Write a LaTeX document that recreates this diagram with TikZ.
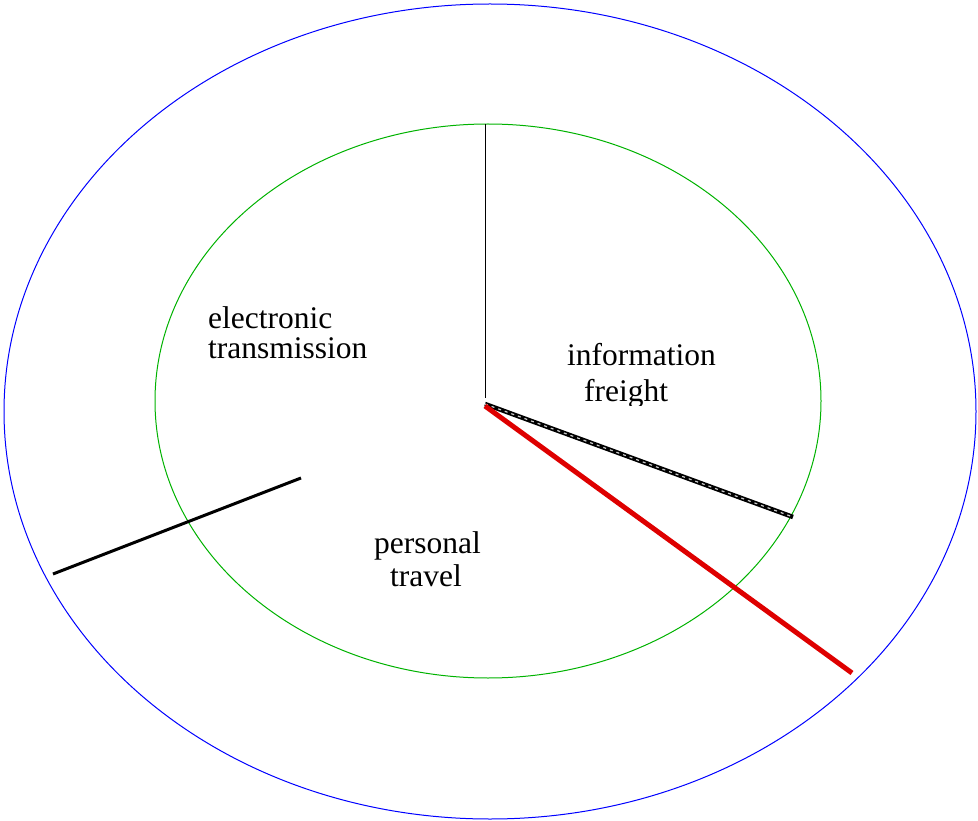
\documentclass[tikz,border=0pt]{standalone}
\usepackage{fontspec}
\setmainfont{Liberation Serif}
\begin{document}
\begin{tikzpicture}[x=1pt,y=-1pt,
  lbl/.style={inner sep=0pt,font=\fontsize{31.5}{33}\selectfont},
  thinline/.style={draw=black,line width=1pt},
  spoke/.style={draw=black,line width=3pt},
  redspoke/.style={draw=red!87!black,line width=5pt},
  darkspoke/.style={draw=black,line width=4.5pt},
  dashfill/.style={draw=white!80!black,line width=1.2pt,dash pattern=on 3pt off 4pt}]
  \useasboundingbox (0,0) rectangle (978,821);
  % rings
  \draw[blue,line width=1pt] (490,411.5) ellipse [x radius=486, y radius=407.5];
  \draw[green!70!black,line width=1pt] (488,401) ellipse [x radius=333, y radius=277];
  % named points
  \coordinate (c) at (485,404);
  \coordinate (top) at (485,124);
  \coordinate (vtop) at (485,398);
  \coordinate (fr) at (793,517);
  \coordinate (rd0) at (485,406);
  \coordinate (rd) at (852,673);
  \coordinate (l0) at (301,478);
  \coordinate (l1) at (53,574);
  % spokes
  \draw[thinline] (top) -- (vtop);
  \draw[darkspoke] (c) -- (fr);
  \draw[dashfill] (c) -- (fr);
  \draw[redspoke] (rd0) -- (rd);
  \draw[spoke] (l0) -- (l1);
  % labels
  \node[lbl,anchor=base west] (e1) at (208,329) {electronic};
  \node[lbl,anchor=base west] (e2) at (208,358) {transmission};
  \node[lbl,anchor=base west] (i1) at (567,366) {information};
  \begin{scope}
    \clip (500,370) rectangle (760,405);
    \node[lbl,anchor=base west] (i2) at (584,401) {freight};
  \end{scope}
  \node[lbl,anchor=base] (p1) at (427.5,553) {personal};
  \node[lbl,anchor=base] (p2) at (426,586) {travel};
\end{tikzpicture}
\end{document}
